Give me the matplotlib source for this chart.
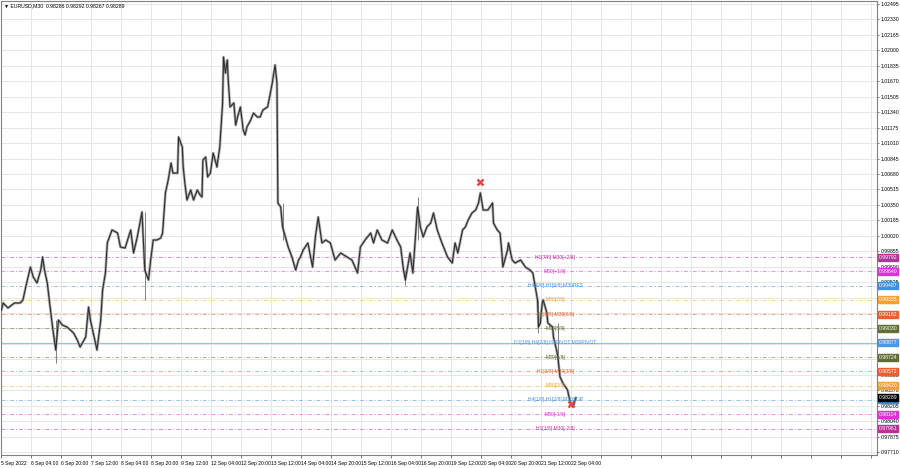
import matplotlib
matplotlib.use('Agg')
import matplotlib.pyplot as plt
import matplotlib.transforms as mtransforms

plt.rcParams['font.family'] = ['Liberation Sans', 'DejaVu Sans']

########################################################################
# data (bar index, close price)

bars = [0, 2, 7, 14, 20, 23, 26, 31, 34, 38, 42, 44, 46, 49, 52, 55, 58, 61, 65, 70,
        77, 81, 84, 90, 93, 95, 98, 102, 106, 108, 111, 113, 118, 124, 127, 132, 138, 141, 145, 150,
        153, 157, 159, 162, 166, 170, 172, 175, 178, 181, 183, 188, 189, 191, 193, 194, 196, 198, 202, 205,
        209, 212, 214, 215, 218, 220, 223, 226, 230, 231, 233, 236, 237, 239, 241, 242, 244, 248, 250, 252,
        255, 258, 260, 262, 266, 269, 273, 276, 279, 284, 287, 289, 292, 294, 295, 298, 300, 303, 306, 310,
        314, 317, 319, 322, 327, 332, 335, 338, 342, 346, 351, 356, 362, 369, 374, 380, 383, 388, 394, 397,
        401, 406, 412, 417, 422, 426, 429, 431, 436, 439, 444, 447, 450, 454, 458, 461, 465, 470, 476, 481,
        484, 487, 492, 495, 498, 502, 506, 509, 511, 514, 519, 524, 525, 529, 532, 534, 535, 540, 541, 545,
        548, 554, 559, 564, 567, 572, 573, 575, 577, 578, 582, 583, 588, 589, 593, 594, 596, 599, 604, 607,
        610, 612, 613]

closes = [0.99227, 0.99302, 0.99249, 0.99302, 0.99302, 0.99334, 0.99473, 0.99686, 0.99580, 0.99516,
          0.99654, 0.99793, 0.99654, 0.99516, 0.99259, 0.99014, 0.98800, 0.99120, 0.99067, 0.99046,
          0.98982, 0.98907, 0.98832, 0.98939, 0.99259, 0.99120, 0.98982, 0.98800, 0.99120, 0.99441,
          0.99622, 0.99943, 1.00082, 1.00050, 0.99900, 0.99889, 1.00082, 0.99836, 1.00007, 1.00274,
          0.99654, 0.99548, 0.99740, 0.99975, 0.99975, 0.99996, 1.00050, 1.00477, 1.00616, 1.00797,
          1.00690, 1.00690, 1.01075, 1.01021, 1.00968, 1.00754, 1.00562, 1.00402, 1.00509, 1.00402,
          1.00509, 1.00455, 1.00434, 1.00829, 1.00861, 1.00648, 1.00690, 1.00904, 1.00754, 1.00829,
          1.00968, 1.01438, 1.01929, 1.01758, 1.01897, 1.01684, 1.01395, 1.01438, 1.01203, 1.01288,
          1.01395, 1.01150, 1.01096, 1.01182, 1.01256, 1.01331, 1.01288, 1.01288, 1.01363, 1.01395,
          1.01545, 1.01652, 1.01844, 1.01652, 1.00370, 1.00327, 1.00114, 1.00007, 0.99900, 0.99793,
          0.99654, 0.99761, 0.99793, 0.99868, 0.99943, 0.99686, 1.00007, 1.00220, 0.99943, 0.99975,
          0.99943, 0.99761, 0.99836, 0.99793, 0.99761, 0.99622, 0.99900, 0.99975, 1.00050, 0.99943,
          1.00082, 0.99975, 0.99943, 1.00082, 0.99975, 0.99900, 0.99654, 0.99548, 0.99836, 0.99622,
          1.00327, 1.00114, 1.00007, 1.00114, 1.00156, 1.00263, 1.00082, 0.99943, 0.99793, 0.99729,
          0.99943, 0.99836, 1.00082, 1.00114, 1.00188, 1.00263, 1.00295, 1.00370, 1.00477, 1.00295,
          1.00295, 1.00370, 1.00156, 1.00082, 1.00050, 0.99836, 0.99686, 0.99868, 0.99943, 0.99761,
          0.99729, 0.99761, 0.99686, 0.99654, 0.99622, 0.99334, 0.99046, 0.99088, 0.99302, 0.99334,
          0.99195, 0.99088, 0.99046, 0.98939, 0.98768, 0.98693, 0.98512, 0.98448, 0.98373, 0.98234,
          0.98191, 0.98266, 0.98289]

# a few long wicks (bar, low, high)
wick_bars = [58, 153, 300, 431, 444, 573, 594]
wick_lows = [0.98661, 0.99334, 0.99975, 0.99494, 0.99975, 0.98982, 0.98618]
wick_highs = [0.99120, 1.00274, 1.00370, 0.99654, 1.00434, 0.99334, 0.99088]

# red crosses
cross_bars = [511, 608]
cross_prices = [1.00594, 0.98223]

# murrey math levels
levels = [0.99792, 0.99640, 0.99487, 0.99335, 0.99182, 0.99030, 0.98877,
          0.98724, 0.98572, 0.98420, 0.98267, 0.98114, 0.97961]
level_names = ['H1[7/8] M30[+2/8]', 'M30[+1/8]', 'H4[6/8] H1[6/8] M30RES', 'M30[7/8]',
               'H1[5/8] M30[6/8]', 'M30[5/8]', 'D1[1/8] H4[2/8] H1PIVOT M30PIVOT',
               'M30[4/8]', 'H1[3/8] M30[3/8]', 'M30[2/8]', 'H4[1/8] H1[2/8] M30SUP',
               'M30[-1/8]', 'H1[1/8] M30[-2/8]']
level_colors = ['#b8329a', '#e22ee2', '#3d8fe0', '#f5a030', '#e8602c', '#5f6e32', '#4a96e8',
                '#5f6e32', '#e8602c', '#f5a030', '#3d8fe0', '#e22ee2', '#b8329a']

last_price = 0.98289

price_ticks = [1.02495, 1.02330, 1.02165, 1.02000, 1.01835, 1.01670, 1.01505, 1.01340,
               1.01175, 1.01010, 1.00845, 1.00680, 1.00515, 1.00350, 1.00185, 1.00020,
               0.99855, 0.99690, 0.99525, 0.99360, 0.99195, 0.99030, 0.98865, 0.98700,
               0.98535, 0.98370, 0.98205, 0.98040, 0.97875, 0.97710]

time_labels = ['5 Sep 2022', '6 Sep 04:00', '6 Sep 20:00', '7 Sep 12:00', '8 Sep 04:00',
               '8 Sep 20:00', '9 Sep 12:00', '12 Sep 04:00', '12 Sep 20:00', '13 Sep 12:00',
               '14 Sep 04:00', '14 Sep 20:00', '15 Sep 12:00', '16 Sep 04:00', '16 Sep 20:00',
               '19 Sep 12:00', '20 Sep 04:00', '20 Sep 20:00', '21 Sep 12:00', '22 Sep 04:00']

########################################################################

fs = 3.6
fs_ax = 3.7
fig = plt.figure(figsize=(9, 4.68), dpi=100)
ax = fig.add_axes([0.001, 0.0278, 0.9733, 0.970])

ax.set_xlim(-0.5, 934)
ax.set_ylim(0.97679, 1.02527)

# grid
grid_x = list(range(0, 934, 32))
ax.set_xticks(grid_x)
ax.set_xticklabels(time_labels + [''] * (len(grid_x) - len(time_labels)))
for lab in ax.get_xticklabels():
    lab.set_horizontalalignment('left')
ax.set_yticks(price_ticks)
ax.set_yticklabels(['%.5f' % p for p in price_ticks])
ax.yaxis.tick_right()
ax.tick_params(axis='x', labelsize=fs, length=2, width=0.6, color='#606060', pad=2)
ax.tick_params(axis='y', labelsize=fs_ax, length=1.5, width=0.6, color='#606060', pad=1)
ax.grid(True, color='#e6e6e6', lw=0.7)
ax.set_axisbelow(True)

for s in ax.spines.values():
    s.set_color('#808080')
    s.set_linewidth(0.8)

# levels
for lv, name, c in zip(levels, level_names, level_colors):
    if name.startswith('D1'):
        ax.axhline(lv, color='#8ec0f0', lw=0.8, zorder=1)
    else:
        ax.axhline(lv, color=c, lw=0.7, ls=(0, (4, 2, 1, 2)), alpha=0.55, zorder=1)

# price
ax.plot(bars, closes, color='#a8a8a8', lw=1.9, zorder=2)
ax.vlines(wick_bars, wick_lows, wick_highs, color='#808080', lw=0.7, zorder=2)
ax.plot(bars, closes, color='#2e2e2e', lw=0.8, zorder=3)

ax.plot(cross_bars, cross_prices, 'x', color='#e04848', ms=5, mew=1.8, zorder=5)

# level texts
for lv, name, c in zip(levels, level_names, level_colors):
    ax.text(591, lv, name, color=c, fontsize=fs, ha='center', va='center', zorder=6)

# right-side price boxes
trans = mtransforms.blended_transform_factory(ax.transAxes, ax.transData)
for lv, c in zip(levels + [last_price], level_colors + ['#000000']):
    ax.annotate('%.5f' % lv, xy=(1.0, lv), xycoords=trans, xytext=(1.2, 0),
                textcoords='offset points', fontsize=fs_ax, color='white', va='center', ha='left',
                bbox=dict(boxstyle='square,pad=0.2', fc=c, ec=c), annotation_clip=False, zorder=10)

# header
ax.text(0.003, 0.994, '\u25bc EURUSD,M30  0.98286 0.98292 0.98267 0.98289', transform=ax.transAxes,
        fontsize=fs_ax, va='top', ha='left')

fig.savefig('out.png', dpi=100)
